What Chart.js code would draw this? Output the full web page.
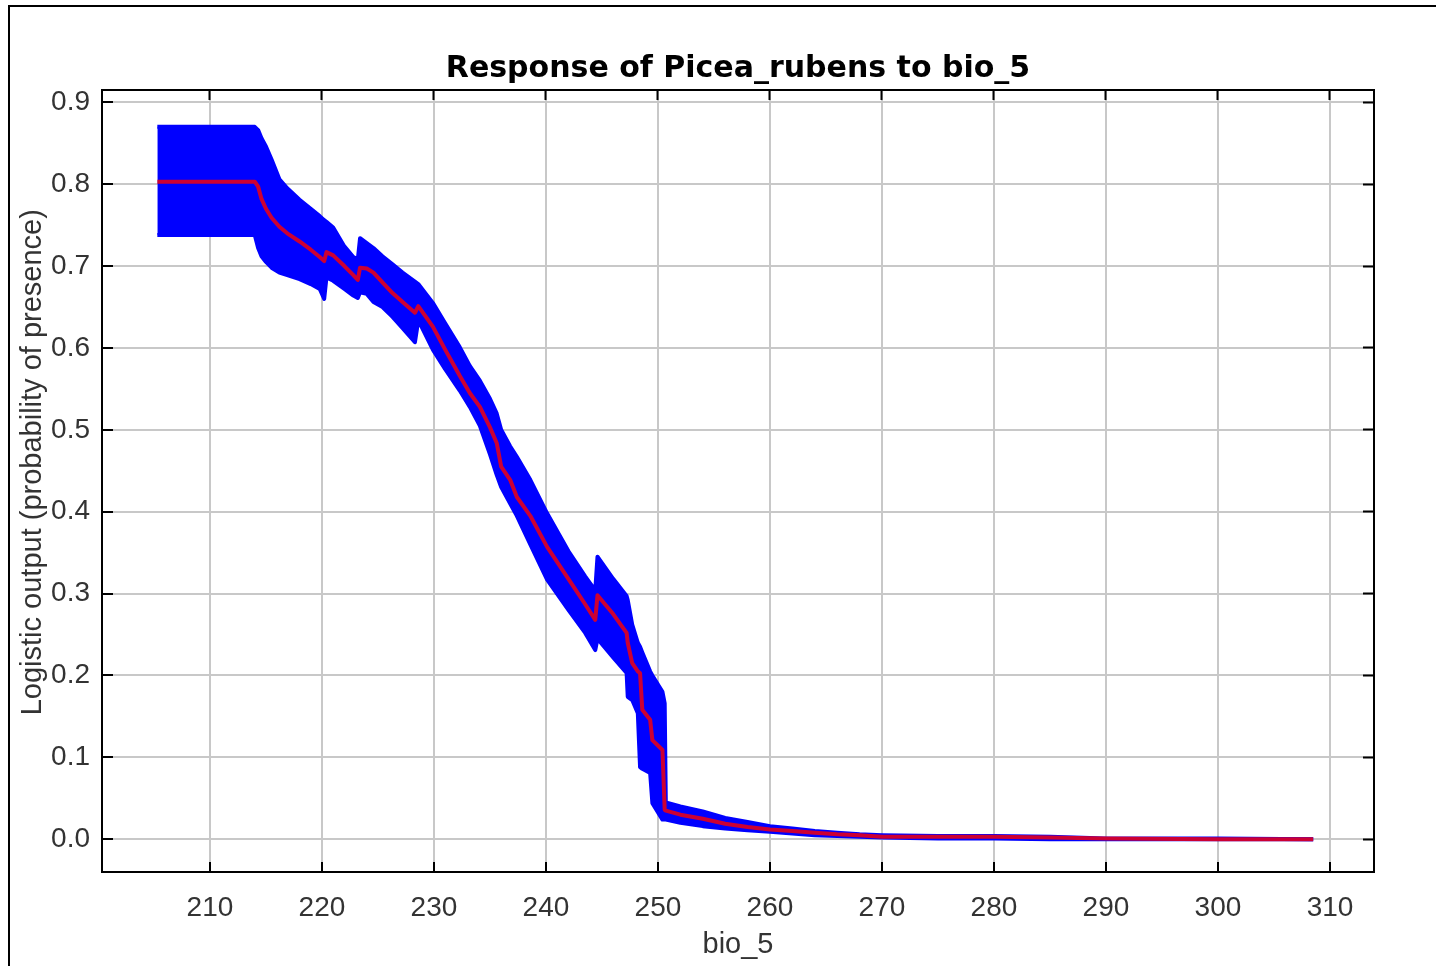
<!DOCTYPE html>
<html>
<head>
<meta charset="utf-8">
<title>Response of Picea_rubens to bio_5</title>
<script src="https://cdn.jsdelivr.net/npm/chart.js@4.4.1/dist/chart.umd.min.js"></script>
<style>
  html, body { margin: 0; padding: 0; background: #ffffff; }
  #wrap { position: relative; width: 1436px; height: 966px; overflow: hidden; background: #ffffff; }
  #wrap canvas { position: absolute; left: 0; top: 0; }
  #frame { position: absolute; left: 8px; top: 5px; right: -10px; bottom: -10px;
           border-left: 2px solid #000; border-top: 2px solid #000; pointer-events: none; }
</style>
</head>
<body>
<div id="wrap">
  <canvas id="chart" width="1436" height="966"></canvas>
  <div id="frame"></div>
</div>
<script>
// bio_5 values (x) with the response mean and the mean +/- one standard deviation
const bioX = [
  205.3, 214.0, 214.3, 214.6, 215.0, 215.5, 216.2, 216.9, 218.0, 219.0,
  219.8, 220.2, 220.4, 221.0, 222.0, 222.8, 223.2, 223.4, 224.0, 224.6,
  225.4, 226.3, 227.2, 228.3, 228.6, 229.9, 231.0, 232.3, 233.2, 234.1,
  235.0, 235.6, 236.0, 236.8, 237.4, 238.6, 240.1, 242.0, 243.5, 244.4,
  244.6, 246.0, 247.2, 247.3, 247.7, 248.2, 248.4, 248.6, 249.3, 249.5,
  250.4, 250.6, 250.7, 252.0, 254.0, 256.0, 258.0, 260.0, 262.0, 264.0,
  266.0, 268.0, 270.0, 275.0, 280.0, 285.0, 290.0, 300.0, 308.5
];
const lowerY = [
  0.738, 0.738, 0.722, 0.712, 0.705, 0.698, 0.692, 0.689, 0.684, 0.678,
  0.672, 0.660, 0.686, 0.682, 0.672, 0.664, 0.661, 0.668, 0.666, 0.656,
  0.650, 0.638, 0.624, 0.607, 0.634, 0.598, 0.574, 0.548, 0.528, 0.505,
  0.470, 0.445, 0.430, 0.410, 0.395, 0.360, 0.317, 0.280, 0.252, 0.231,
  0.245, 0.222, 0.203, 0.174, 0.170, 0.154, 0.088, 0.086, 0.081, 0.044,
  0.024, 0.024, 0.024, 0.020, 0.016, 0.013, 0.011, 0.009, 0.007, 0.005,
  0.004, 0.003, 0.002, 0.001, 0.001, 0.000, 0.000, 0.000, 0.000
];
const meanY = [
  0.803, 0.803, 0.797, 0.782, 0.770, 0.759, 0.748, 0.740, 0.730, 0.720,
  0.711, 0.706, 0.717, 0.713, 0.700, 0.689, 0.683, 0.698, 0.697, 0.692,
  0.680, 0.667, 0.656, 0.643, 0.651, 0.626, 0.598, 0.566, 0.545, 0.528,
  0.503, 0.484, 0.455, 0.439, 0.418, 0.395, 0.357, 0.318, 0.287, 0.268,
  0.298, 0.275, 0.252, 0.240, 0.215, 0.205, 0.203, 0.158, 0.146, 0.121,
  0.109, 0.036, 0.035, 0.030, 0.025, 0.019, 0.015, 0.012, 0.010, 0.008,
  0.006, 0.005, 0.003, 0.003, 0.003, 0.002, 0.001, 0.000, 0.000
];
const upperY = [
  0.870, 0.870, 0.866, 0.856, 0.846, 0.830, 0.806, 0.795, 0.781, 0.770,
  0.761, 0.756, 0.754, 0.747, 0.724, 0.711, 0.708, 0.734, 0.728, 0.722,
  0.712, 0.702, 0.692, 0.681, 0.678, 0.655, 0.630, 0.601, 0.578, 0.560,
  0.538, 0.520, 0.500, 0.480, 0.467, 0.439, 0.398, 0.352, 0.321, 0.304,
  0.345, 0.318, 0.297, 0.292, 0.262, 0.240, 0.235, 0.228, 0.205, 0.200,
  0.180, 0.166, 0.045, 0.040, 0.034, 0.026, 0.021, 0.016, 0.013, 0.010,
  0.008, 0.006, 0.005, 0.004, 0.004, 0.003, 0.001, 0.001, 0.000
];

const xTicks = [210, 220, 230, 240, 250, 260, 270, 280, 290, 300, 310];
const yTicks = [0.0, 0.1, 0.2, 0.3, 0.4, 0.5, 0.6, 0.7, 0.8, 0.9];

const chartTitle = 'Response of Picea_rubens to bio_5';
const xAxisTitle = 'bio_5';
const yAxisTitle = 'Logistic output (probability of presence)';

const X_MIN = 200.36, X_MAX = 313.93;
const Y_MIN = -0.040, Y_MAX = 0.915;

const toPoints = ys => bioX.map((x, i) => ({ x: x, y: ys[i] }));

const tickFont = { family: '"Liberation Sans", Arial, sans-serif', size: 28 };
const textColor = '#333333';
const gridColor = '#c8c8c8';

const setTicks = values => scale => { scale.ticks = values.map(v => ({ value: v })); };

// vertical axis caption, drawn beside the value labels
const yTitlePlugin = {
  id: 'yTitle',
  afterDraw(chart) {
    const ctx = chart.ctx;
    const area = chart.chartArea;
    ctx.save();
    ctx.translate(33, area.top + (area.bottom - area.top) * 0.476);
    ctx.rotate(-Math.PI / 2);
    ctx.font = '29px "Liberation Sans", Arial, sans-serif';
    ctx.fillStyle = textColor;
    ctx.textAlign = 'center';
    ctx.textBaseline = 'middle';
    ctx.fillText(yAxisTitle, 0, 0);
    ctx.restore();
  }
};

new Chart(document.getElementById('chart'), {
  type: 'line',
  data: {
    datasets: [
      {
        label: 'mean',
        data: toPoints(meanY),
        borderColor: 'rgba(255,0,0,0.8)',
        borderWidth: 4,
        borderJoinStyle: 'round',
        fill: false,
        pointRadius: 0,
        tension: 0
      },
      {
        label: 'mean + sd',
        data: toPoints(upperY),
        borderColor: '#0000ff',
        backgroundColor: '#0000ff',
        borderWidth: 4,
        borderJoinStyle: 'round',
        fill: 2,
        pointRadius: 0,
        tension: 0
      },
      {
        label: 'mean - sd',
        data: toPoints(lowerY),
        borderColor: '#0000ff',
        borderWidth: 4,
        borderJoinStyle: 'round',
        fill: false,
        pointRadius: 0,
        tension: 0
      }
    ]
  },
  options: {
    responsive: false,
    animation: false,
    devicePixelRatio: 1,
    layout: { padding: { left: 0, right: 62, top: 0, bottom: 0 } },
    plugins: {
      legend: { display: false },
      tooltip: { enabled: false },
      title: {
        display: true,
        text: chartTitle,
        fullSize: false,
        color: '#000000',
        font: { family: '"DejaVu Sans", Verdana, sans-serif', size: 30, weight: 'bold' },
        padding: { top: 51, bottom: 3 }
      }
    },
    scales: {
      x: {
        type: 'linear',
        position: 'bottom',
        min: X_MIN,
        max: X_MAX,
        bounds: 'data',
        afterBuildTicks: setTicks(xTicks),
        afterFit: s => { s.height = 94; },
        grid: { color: gridColor, lineWidth: 2, drawTicks: true, tickLength: -10, tickColor: '#000', tickWidth: 2 },
        border: { display: true, color: '#000', width: 2 },
        ticks: { padding: 29, font: tickFont, color: textColor, maxRotation: 0, autoSkip: false },
        title: {
          display: true,
          text: xAxisTitle,
          color: textColor,
          font: { family: '"Liberation Sans", Arial, sans-serif', size: 29 },
          padding: { top: 0, bottom: 4 }
        }
      },
      x2: {
        type: 'linear',
        position: 'top',
        min: X_MIN,
        max: X_MAX,
        bounds: 'data',
        afterBuildTicks: setTicks(xTicks),
        afterFit: s => { s.height = 0; },
        grid: { drawOnChartArea: false, drawTicks: true, tickLength: -10, tickColor: '#000', tickWidth: 2 },
        border: { display: true, color: '#000', width: 2 },
        ticks: { display: false }
      },
      y: {
        type: 'linear',
        position: 'left',
        min: Y_MIN,
        max: Y_MAX,
        bounds: 'data',
        afterBuildTicks: setTicks(yTicks),
        afterFit: s => { s.width = 102; },
        grid: { color: gridColor, lineWidth: 2, drawTicks: true, tickLength: -11, tickColor: '#000', tickWidth: 2 },
        border: { display: true, color: '#000', width: 2 },
        ticks: { padding: 23, font: tickFont, color: textColor, callback: v => Number(v).toFixed(1) }
      },
      y2: {
        type: 'linear',
        position: 'right',
        min: Y_MIN,
        max: Y_MAX,
        bounds: 'data',
        afterBuildTicks: setTicks(yTicks),
        afterFit: s => { s.width = 0; },
        grid: { drawOnChartArea: false, drawTicks: true, tickLength: -11, tickColor: '#000', tickWidth: 2 },
        border: { display: true, color: '#000', width: 2 },
        ticks: { display: false }
      }
    }
  },
  plugins: [yTitlePlugin]
});
</script>
</body>
</html>
